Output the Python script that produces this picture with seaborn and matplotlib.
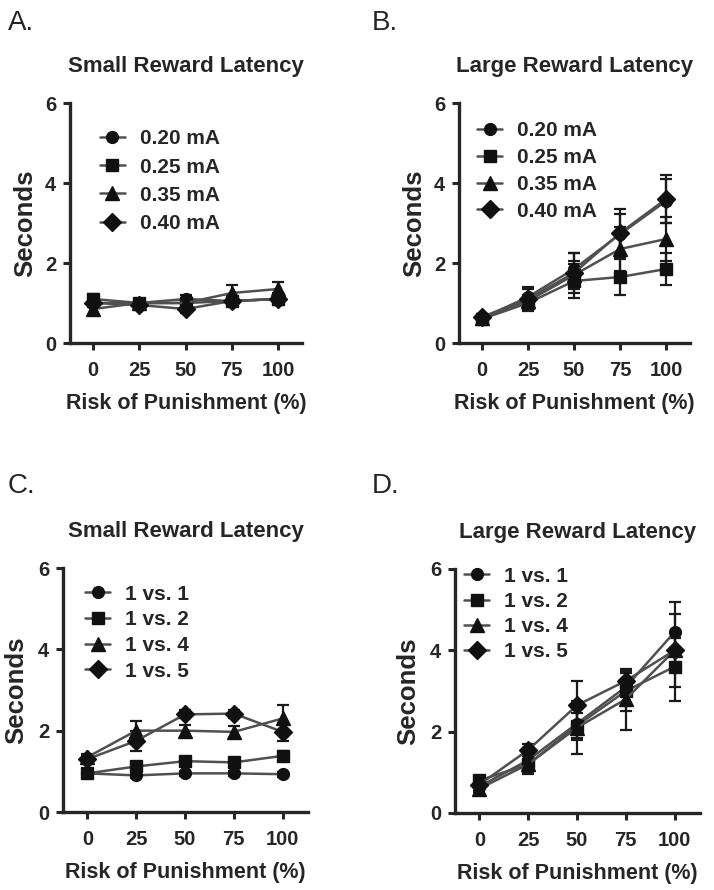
import numpy as np
import pandas as pd
from matplotlib import pyplot as plt
import seaborn as sns

# global settings
sns.set_style("ticks")
plt.rcParams['font.family'] = ['Liberation Sans', 'DejaVu Sans']

# ---- data ----
risk = [0, 25, 50, 75, 100]

shock_labels = ['0.20 mA', '0.25 mA', '0.35 mA', '0.40 mA']
ratio_labels = ['1 vs. 1', '1 vs. 2', '1 vs. 4', '1 vs. 5']

# A. small reward latency, shock intensity groups
a_020 = [1.00, 1.00, 1.10, 1.05, 1.10]
a_025 = [1.10, 1.00, 1.00, 1.05, 1.10]
a_035 = [0.85, 1.00, 1.00, 1.25, 1.35]
a_040 = [1.00, 0.95, 0.85, 1.05, 1.10]
a_020_err = [0.10, 0.08, 0.10, 0.12, 0.12]
a_025_err = [0.12, 0.08, 0.08, 0.12, 0.12]
a_035_err = [0.15, 0.10, 0.10, 0.20, 0.17]
a_040_err = [0.10, 0.08, 0.10, 0.12, 0.15]

# B. large reward latency, shock intensity groups
b_020 = [0.62, 1.15, 1.85, 2.72, 3.55]
b_025 = [0.60, 1.00, 1.55, 1.65, 1.85]
b_035 = [0.62, 1.05, 1.70, 2.35, 2.60]
b_040 = [0.65, 1.10, 1.75, 2.75, 3.60]
b_020_err = [0.08, 0.20, 0.40, 0.50, 0.55]
b_025_err = [0.10, 0.15, 0.42, 0.45, 0.40]
b_035_err = [0.08, 0.15, 0.35, 0.55, 0.55]
b_040_err = [0.08, 0.30, 0.50, 0.60, 0.60]

# C. small reward latency, reward magnitude groups
c_1 = [0.95, 0.90, 0.95, 0.95, 0.93]
c_2 = [0.95, 1.12, 1.25, 1.22, 1.38]
c_4 = [1.35, 2.00, 2.00, 1.97, 2.30]
c_5 = [1.30, 1.75, 2.40, 2.42, 1.97]
c_1_err = [0.06, 0.06, 0.06, 0.06, 0.06]
c_2_err = [0.06, 0.10, 0.08, 0.08, 0.12]
c_4_err = [0.08, 0.25, 0.15, 0.15, 0.32]
c_5_err = [0.08, 0.25, 0.10, 0.10, 0.22]

# D. large reward latency, reward magnitude groups
d_1 = [0.65, 1.30, 2.20, 3.10, 4.45]
d_2 = [0.80, 1.20, 2.15, 3.00, 3.60]
d_4 = [0.60, 1.20, 2.10, 2.80, 4.00]
d_5 = [0.70, 1.55, 2.65, 3.25, 4.00]
d_1_err = [0.10, 0.20, 0.40, 0.40, 0.75]
d_2_err = [0.10, 0.20, 0.30, 0.50, 0.85]
d_4_err = [0.08, 0.25, 0.65, 0.75, 0.90]
d_5_err = [0.08, 0.15, 0.60, 0.20, 0.30]

markers = ['o', 's', '^', 'D']
msizes = [8.5, 8.5, 9.5, 9]


def plot_panel(ax, series, errors, labels, title, leg_anchor, leg_spacing):
    frames = []
    for lab, vals in zip(labels, series):
        frames.append(pd.DataFrame({'risk': risk, 'seconds': vals, 'group': lab}))
    data = pd.concat(frames, ignore_index=True)

    # error bars under the lines
    for vals, err in zip(series, errors):
        ax.errorbar(risk, vals, yerr=err, fmt='none', ecolor='#1a1a1a',
                    elinewidth=1.6, capsize=4.5, capthick=1.6, zorder=1)

    sns.lineplot(data=data, x='risk', y='seconds', style='group',
                 markers=dict(zip(labels, markers)), dashes=False,
                 color='#505050', linewidth=1.8, markersize=8,
                 markerfacecolor='#111111', markeredgecolor='#111111',
                 markeredgewidth=1.0, legend=False, ax=ax, zorder=3)

    handles = [ln for ln in ax.get_lines() if ln.get_marker() in markers][:4]
    for ln, ms in zip(handles, msizes):
        ln.set_markersize(ms)

    ax.legend(handles, labels, loc='upper left', bbox_to_anchor=leg_anchor,
              frameon=False, borderpad=0, borderaxespad=0,
              handlelength=1.2, handletextpad=0.7, labelspacing=leg_spacing,
              prop={'weight': 'bold', 'size': 15})

    ax.set_xlim(-12.5, 113)
    ax.set_ylim(0, 6)
    ax.set_xticks(risk)
    ax.set_yticks([0, 2, 4, 6])
    sns.despine(ax=ax)
    for s in ['left', 'bottom']:
        ax.spines[s].set_linewidth(2.4)
    ax.tick_params(width=2.2, length=5, labelsize=14.5)
    ax.tick_params(axis='x', pad=8)
    ax.tick_params(axis='y', pad=5)
    for t in ax.get_xticklabels() + ax.get_yticklabels():
        t.set_fontweight('bold')

    ax.set_title(title, fontsize=16, fontweight='bold', pad=22)
    ax.set_xlabel('Risk of Punishment (%)', fontsize=15.5, fontweight='bold', labelpad=9)
    ax.set_ylabel('Seconds', fontsize=18.5, fontweight='bold')
    ax.yaxis.set_label_coords(-0.14, 0.5)
    return ax


fig = plt.figure(figsize=(7.14, 8.9), dpi=100)
W, H = 714, 890


def add_axes(left, right, top, bottom):
    return fig.add_axes([left / W, 1 - bottom / H, (right - left) / W, (bottom - top) / H])


ax_a = add_axes(70, 302, 103, 343)
ax_b = add_axes(459, 690, 103, 343)
ax_c = add_axes(63, 308, 568, 812)
ax_d = add_axes(455, 700, 569, 813)

plot_panel(ax_a, [a_020, a_025, a_035, a_040], [a_020_err, a_025_err, a_035_err, a_040_err],
           shock_labels, 'Small Reward Latency', (0.129, 0.89), 0.44)
plot_panel(ax_b, [b_020, b_025, b_035, b_040], [b_020_err, b_025_err, b_035_err, b_040_err],
           shock_labels, 'Large Reward Latency', (0.078, 0.923), 0.37)
plot_panel(ax_c, [c_1, c_2, c_4, c_5], [c_1_err, c_2_err, c_4_err, c_5_err],
           ratio_labels, 'Small Reward Latency', (0.09, 0.932), 0.32)
plot_panel(ax_d, [d_1, d_2, d_4, d_5], [d_1_err, d_2_err, d_4_err, d_5_err],
           ratio_labels, 'Large Reward Latency', (0.037, 1.01), 0.30)

# panel letters
for letter, x, y in [('A.', 8, 30), ('B.', 372, 30), ('C.', 8, 493), ('D.', 372, 493)]:
    fig.text(x / W, 1 - y / H, letter, fontsize=20, va='baseline', ha='left')

fig.savefig('out.png', dpi=100)
